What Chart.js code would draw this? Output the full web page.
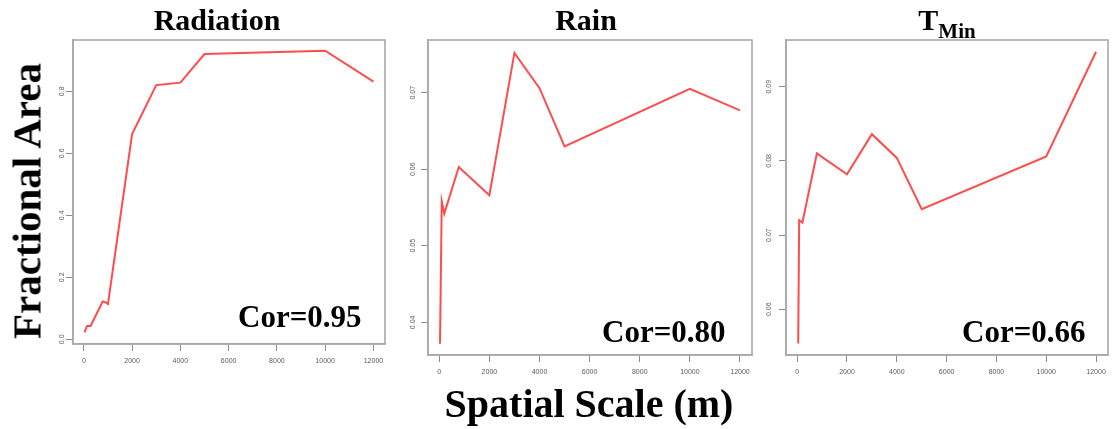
<!DOCTYPE html>
<html lang="en">
<head>
<meta charset="UTF-8">
<title>Fractional Area vs Spatial Scale</title>
<style>
  body {
    margin: 0;
    background: #ffffff;
    width: 1114px;
    height: 429px;
    position: relative;
    overflow: hidden;
  }
  .panel {
    position: absolute;
    top: 0;
    height: 400px;
  }
  .lbl {
    position: absolute;
    font-family: "Liberation Serif", "Times New Roman", serif;
    font-weight: bold;
    color: #000;
    white-space: nowrap;
    line-height: 1;
  }
  .title { font-size: 30px; top: 5px; transform: translateX(-50%); }
  .cor { font-size: 31px; }
  .lbl sub { font-size: 21px; vertical-align: -8px; }
</style>
</head>
<body>

<div class="panel" style="left:0;width:392px"><canvas id="radChart"></canvas></div>
<div class="panel" style="left:392px;width:364px"><canvas id="rainChart"></canvas></div>
<div class="panel" style="left:756px;width:358px"><canvas id="tminChart"></canvas></div>

<div class="lbl title" style="left:217px">Radiation</div>
<div class="lbl title" style="left:586px">Rain</div>
<div class="lbl title" style="left:947px">T<sub>Min</sub></div>

<div class="lbl" style="font-size:41px;left:27px;top:201px;transform:translate(-50%,-50%) rotate(-90deg)">Fractional Area</div>
<div class="lbl" style="font-size:40px;left:589px;top:384px;transform:translateX(-50%)">Spatial Scale (m)</div>

<div class="lbl cor" style="left:238px;top:301px">Cor=0.95</div>
<div class="lbl cor" style="left:602px;top:316px">Cor=0.80</div>
<div class="lbl cor" style="left:962px;top:316px">Cor=0.66</div>

<script src="https://cdn.jsdelivr.net/npm/chart.js"></script>
<script>
  // spatial scale (m) and fractional area for each variable
  const radScale = [30, 130, 280, 780, 900, 1000, 2000, 3000, 4000, 5000, 10000, 12000];
  const radArea  = [0.022, 0.043, 0.043, 0.122, 0.119, 0.114, 0.662, 0.820, 0.828, 0.920, 0.931, 0.831];

  const rainScale = [30, 100, 200, 780, 2000, 3000, 4000, 5000, 10000, 12000];
  const rainArea  = [0.0372, 0.0558, 0.0542, 0.0603, 0.0566, 0.0752, 0.0706, 0.0630, 0.0705, 0.0677];

  const tminScale = [40, 80, 210, 790, 2000, 3000, 4000, 5000, 10000, 12000];
  const tminArea  = [0.0554, 0.0720, 0.0717, 0.0810, 0.0782, 0.0836, 0.0804, 0.0735, 0.0806, 0.0947];

  const xTicks = [0, 2000, 4000, 6000, 8000, 10000, 12000];
  const radTicks = [0.0, 0.2, 0.4, 0.6, 0.8];
  const rainTicks = [0.04, 0.05, 0.06, 0.07];
  const tminTicks = [0.06, 0.07, 0.08, 0.09];

  // grey frame around the plotting region
  const boxPlugin = {
    id: "box",
    afterDraw(chart) {
      const a = chart.chartArea;
      const ctx = chart.ctx;
      ctx.save();
      ctx.strokeStyle = "#a8a8a8";
      ctx.lineWidth = 1.6;
      ctx.strokeRect(a.left, a.top, a.right - a.left, a.bottom - a.top);
      ctx.restore();
    }
  };

  function createPanel(id, xs, ys, cfg) {
    const points = xs.map((x, i) => ({ x: x, y: ys[i] }));
    const tickFont = { family: "Liberation Sans, Arial, sans-serif", size: 7 };

    new Chart(document.getElementById(id), {
      type: "line",
      data: {
        datasets: [{
          data: points,
          borderColor: "rgb(255, 76, 76)",
          borderWidth: 2,
          pointRadius: 0,
          tension: 0,
          fill: false
        }]
      },
      options: {
        responsive: true,
        maintainAspectRatio: false,
        animation: false,
        layout: { padding: { top: 40, right: cfg.padRight, left: 0, bottom: 0 } },
        plugins: { legend: { display: false }, tooltip: { enabled: false } },
        scales: {
          x: {
            type: "linear",
            min: -449,
            max: 12479,
            afterBuildTicks: s => { s.ticks = xTicks.map(v => ({ value: v })); },
            afterFit: s => { s.height = 400 - cfg.bottom; },
            grid: { drawOnChartArea: false, drawTicks: true, tickLength: 7, color: "#8c8c8c" },
            border: { display: true, color: "#a8a8a8", width: 1.6 },
            ticks: {
              font: tickFont,
              color: "#5a5a5a",
              padding: cfg.xPad,
              maxRotation: 0,
              autoSkip: false,
              callback: v => String(v)
            }
          },
          y: {
            min: cfg.yMin,
            max: cfg.yMax,
            afterBuildTicks: s => { s.ticks = cfg.yTicks.map(v => ({ value: v })); },
            afterFit: s => { s.width = cfg.left; },
            grid: { drawOnChartArea: false, drawTicks: true, tickLength: 7, color: "#8c8c8c" },
            border: { display: true, color: "#a8a8a8", width: 1.6 },
            ticks: {
              font: tickFont,
              color: "#5a5a5a",
              minRotation: 90,
              maxRotation: 90,
              crossAlign: "center",
              padding: cfg.yPad,
              autoSkip: false,
              callback: v => v.toFixed(cfg.digits)
            }
          }
        }
      },
      plugins: [boxPlugin]
    });
  }

  createPanel("radChart", radScale, radArea, {
    left: 73, padRight: 7, bottom: 344, xPad: 6,
    yMin: -0.0152, yMax: 0.9655, yTicks: radTicks, digits: 1, yPad: -1
  });
  createPanel("rainChart", rainScale, rainArea, {
    left: 36, padRight: 4, bottom: 355, xPad: 6,
    yMin: 0.03573, yMax: 0.07689, yTicks: rainTicks, digits: 2, yPad: 1
  });
  createPanel("tminChart", tminScale, tminArea, {
    left: 30, padRight: 6, bottom: 355, xPad: 6,
    yMin: 0.05384, yMax: 0.09629, yTicks: tminTicks, digits: 2, yPad: 3
  });
</script>
</body>
</html>
